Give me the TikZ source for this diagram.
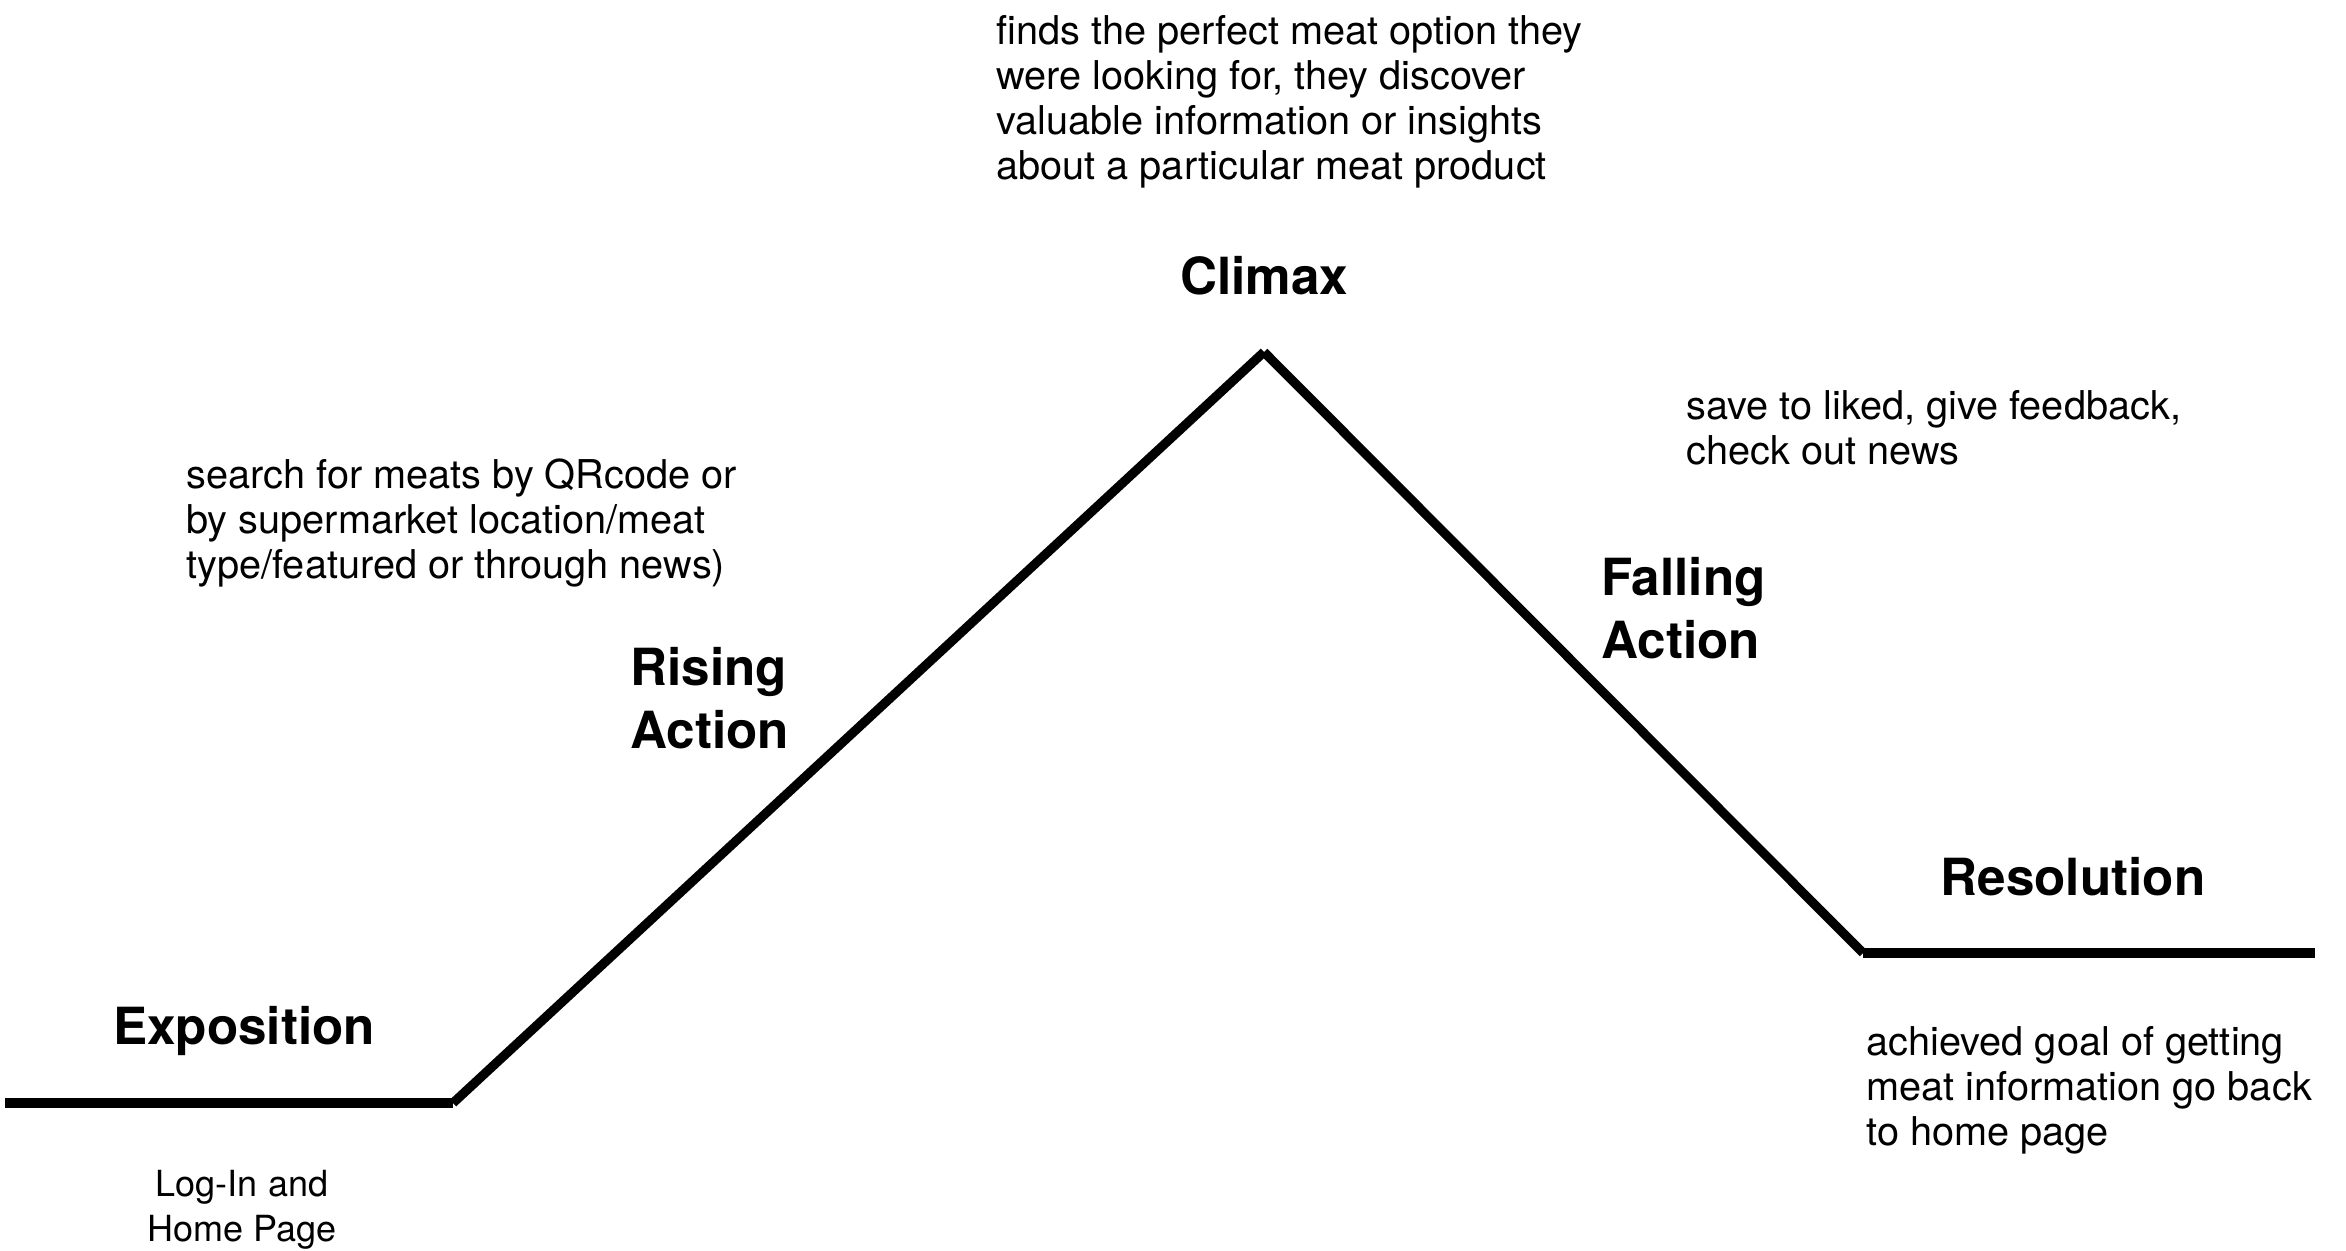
\documentclass[tikz,border=0pt]{standalone}
\usepackage{fontspec}
\setmainfont{TeX Gyre Heros}
\begin{document}
\begin{tikzpicture}[x=0.5pt,y=-0.5pt,
  plot/.style={line width=4.6pt,line cap=butt},
  head/.style={font=\fontsize{25.6pt}{31.5pt}\selectfont\bfseries,inner sep=0pt},
  body/.style={font=\fontsize{19.85pt}{22.5pt}\selectfont,inner sep=0pt,align=left},
  small/.style={font=\fontsize{18pt}{22.5pt}\selectfont,inner sep=0pt,align=center}]
\useasboundingbox[fill=white] (0,0) rectangle (2346,1251);
\coordinate (a) at (5,1103);
\coordinate (b) at (453,1103);
\coordinate (c) at (1264,352);
\coordinate (d) at (1863,953);
\coordinate (e) at (2315,953);
\draw[plot] (a) -- (b);
\draw[plot] (b) -- (c);
\draw[plot] (c) -- (d);
\draw[plot] (d) -- (e);
\node[head,anchor=base] (expo) at (244,1044) {Exposition};
\node[head,anchor=base] (climax) at (1264,295) {Climax};
\node[head,anchor=base] (resol) at (2073,895) {Resolution};
\node[head,align=left,anchor=north west] (rising) at (630,647) {Rising\\Action};
\node[head,align=left,anchor=north west] (falling) at (1601,557) {Falling\\Action};
\node[body,anchor=north west] (climaxtxt) at (996,15) {finds the perfect meat option they\\were looking for, they discover\\valuable information or insights\\about a particular meat product};
\node[body,anchor=north west] (searchtxt) at (186,458) {search for meats by QRcode or\\by supermarket location/meat\\type/featured or through news)};
\node[body,anchor=north west] (savetxt) at (1686,390) {save to liked, give feedback,\\check out news};
\node[body,anchor=north west] (achtxt) at (1866,1026) {achieved goal of getting\\meat information go back\\to home page};
\node[small,anchor=north] (logtxt) at (242,1170) {Log-In and\\Home Page};
\end{tikzpicture}
\end{document}
